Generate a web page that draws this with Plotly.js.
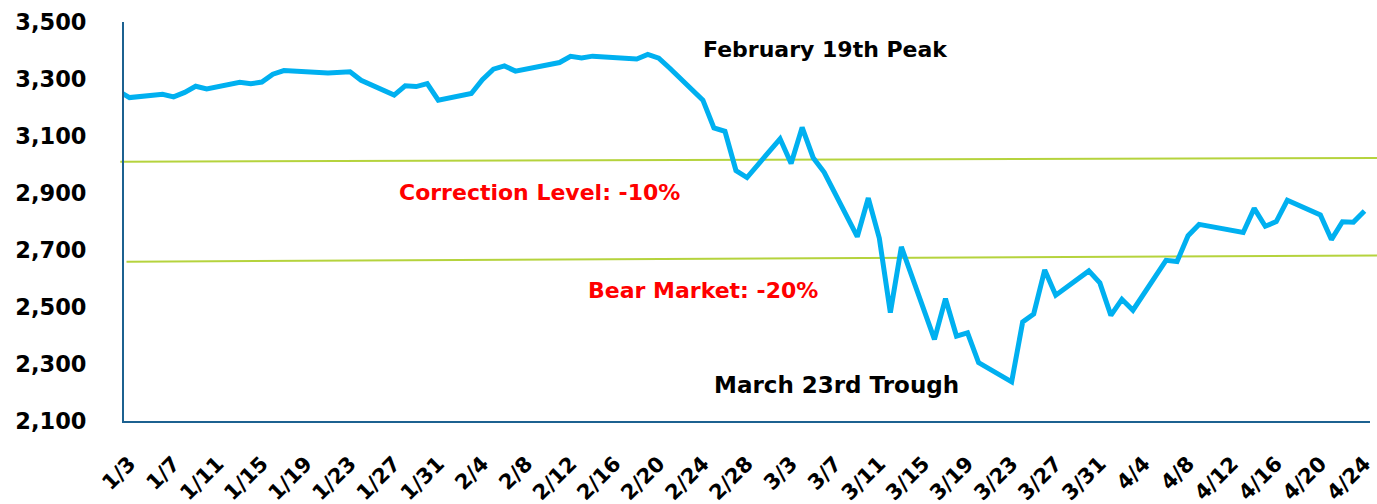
<!DOCTYPE html>
<html>
<head>
<meta charset="utf-8">
<script src="https://cdn.plot.ly/plotly-3.0.1.min.js"></script>
<style>html,body{margin:0;padding:0;background:#fff;}#chart{width:1377px;height:504px;}</style>
</head>
<body>
<div id="chart"></div>
<script>
// Trading dates (2020) and S&P 500 closing levels
const dates = [
 '2020-01-02','2020-01-03','2020-01-06','2020-01-07','2020-01-08','2020-01-09','2020-01-10',
 '2020-01-13','2020-01-14','2020-01-15','2020-01-16','2020-01-17',
 '2020-01-21','2020-01-22','2020-01-23','2020-01-24',
 '2020-01-27','2020-01-28','2020-01-29','2020-01-30','2020-01-31',
 '2020-02-03','2020-02-04','2020-02-05','2020-02-06','2020-02-07',
 '2020-02-10','2020-02-11','2020-02-12','2020-02-13','2020-02-14',
 '2020-02-18','2020-02-19','2020-02-20','2020-02-21',
 '2020-02-24','2020-02-25','2020-02-26','2020-02-27','2020-02-28',
 '2020-03-02','2020-03-03','2020-03-04','2020-03-05','2020-03-06',
 '2020-03-09','2020-03-10','2020-03-11','2020-03-12','2020-03-13',
 '2020-03-16','2020-03-17','2020-03-18','2020-03-19','2020-03-20',
 '2020-03-23','2020-03-24','2020-03-25','2020-03-26','2020-03-27',
 '2020-03-30','2020-03-31','2020-04-01','2020-04-02','2020-04-03',
 '2020-04-06','2020-04-07','2020-04-08','2020-04-09',
 '2020-04-13','2020-04-14','2020-04-15','2020-04-16','2020-04-17',
 '2020-04-20','2020-04-21','2020-04-22','2020-04-23','2020-04-24'
];
const closes = [
 3257.85,3234.85,3246.28,3237.18,3253.05,3274.70,3265.35,
 3288.13,3283.15,3289.29,3316.81,3329.62,
 3320.79,3321.75,3325.54,3295.47,
 3243.63,3276.24,3273.40,3283.66,3225.52,
 3248.92,3297.59,3334.69,3345.78,3327.71,
 3352.09,3357.75,3379.45,3373.94,3380.16,
 3370.29,3386.15,3373.23,3337.75,
 3225.89,3128.21,3116.39,2978.76,2954.22,
 3090.23,3003.37,3130.12,3023.94,2972.37,
 2746.56,2882.23,2741.38,2480.64,2711.02,
 2386.13,2529.19,2398.10,2409.39,2304.92,
 2237.40,2447.33,2475.56,2630.07,2541.47,
 2626.65,2584.59,2470.50,2526.90,2488.65,
 2663.68,2659.41,2749.98,2789.82,
 2761.63,2846.06,2783.36,2799.55,2874.56,
 2823.16,2736.56,2799.31,2797.80,2836.74
];
// X tick positions and labels
const tickDates = ['2020-01-03','2020-01-07','2020-01-11','2020-01-15','2020-01-19','2020-01-23','2020-01-27','2020-01-31',
 '2020-02-04','2020-02-08','2020-02-12','2020-02-16','2020-02-20','2020-02-24','2020-02-28',
 '2020-03-03','2020-03-07','2020-03-11','2020-03-15','2020-03-19','2020-03-23','2020-03-27','2020-03-31',
 '2020-04-04','2020-04-08','2020-04-12','2020-04-16','2020-04-20','2020-04-24'];
const tickLabels = ['1/3','1/7','1/11','1/15','1/19','1/23','1/27','1/31',
 '2/4','2/8','2/12','2/16','2/20','2/24','2/28',
 '3/3','3/7','3/11','3/15','3/19','3/23','3/27','3/31',
 '4/4','4/8','4/12','4/16','4/20','4/24'];
const yTicks = [2100,2300,2500,2700,2900,3100,3300,3500];
// Reference levels (start, end)
const correctionLevel = [3010, 3023];
const bearLevel = [2659, 2681];
const annotationTexts = ['February 19th Peak','Correction Level: -10%','Bear Market: -20%','March 23rd Trough'];

const FONT = 'DejaVu Sans, sans-serif';
const axisColor = '#1c6190';
const green = '#b5d33d';

const trace = {
  x: dates, y: closes, type: 'scatter', mode: 'lines',
  line: {color: '#00b0f0', width: 5, shape: 'linear'},
  hoverinfo: 'x+y'
};

const layout = {
  width: 1377, height: 504,
  margin: {l: 124, r: 7, t: 22, b: 83, pad: 0},
  paper_bgcolor: '#ffffff', plot_bgcolor: '#ffffff',
  showlegend: false,
  font: {family: FONT, color: '#000'},
  xaxis: {
    type: 'date',
    range: ['2020-01-02 12:00', '2020-04-24 12:00'],
    tickmode: 'array', tickvals: tickDates, ticktext: tickLabels,
    tickangle: -45,
    tickfont: {family: FONT, size: 21, color: '#000', weight: 'bold'},
    showgrid: false, zeroline: false,
    showline: true, linecolor: axisColor, linewidth: 2,
    ticks: '', ticklabelstandoff: 20
  },
  yaxis: {
    range: [2100, 3500],
    tickmode: 'array', tickvals: yTicks, tickformat: ',',
    tickfont: {family: FONT, size: 22.5, color: '#000', weight: 'bold'},
    showgrid: false, zeroline: false,
    showline: true, linecolor: axisColor, linewidth: 2,
    ticks: '', ticklabelstandoff: 31
  },
  shapes: [
    {type: 'line', xref: 'paper', yref: 'y', x0: -0.003, x1: 1.0056,
     y0: correctionLevel[0], y1: correctionLevel[1], line: {color: green, width: 2}, layer: 'below'},
    {type: 'line', xref: 'paper', yref: 'y', x0: 0.002, x1: 1.0056,
     y0: bearLevel[0], y1: bearLevel[1], line: {color: green, width: 2}, layer: 'below'}
  ],
  annotations: [
    {text: annotationTexts[0], xref: 'paper', yref: 'paper', x: 0.5634, y: 0.932, showarrow: false,
     xanchor: 'center', yanchor: 'middle', font: {family: FONT, size: 22, color: '#000', weight: 'bold'}},
    {text: annotationTexts[1], xref: 'paper', yref: 'paper', x: 0.3331, y: 0.572, showarrow: false,
     xanchor: 'center', yanchor: 'middle', font: {family: FONT, size: 22, color: '#ff0000', weight: 'bold'}},
    {text: annotationTexts[2], xref: 'paper', yref: 'paper', x: 0.4647, y: 0.328, showarrow: false,
     xanchor: 'center', yanchor: 'middle', font: {family: FONT, size: 22, color: '#ff0000', weight: 'bold'}},
    {text: annotationTexts[3], xref: 'paper', yref: 'paper', x: 0.5722, y: 0.090, showarrow: false,
     xanchor: 'center', yanchor: 'middle', font: {family: FONT, size: 23, color: '#000', weight: 'bold'}}
  ]
};

Plotly.newPlot('chart', [trace], layout, {displayModeBar: false, staticPlot: true});
</script>
</body>
</html>
